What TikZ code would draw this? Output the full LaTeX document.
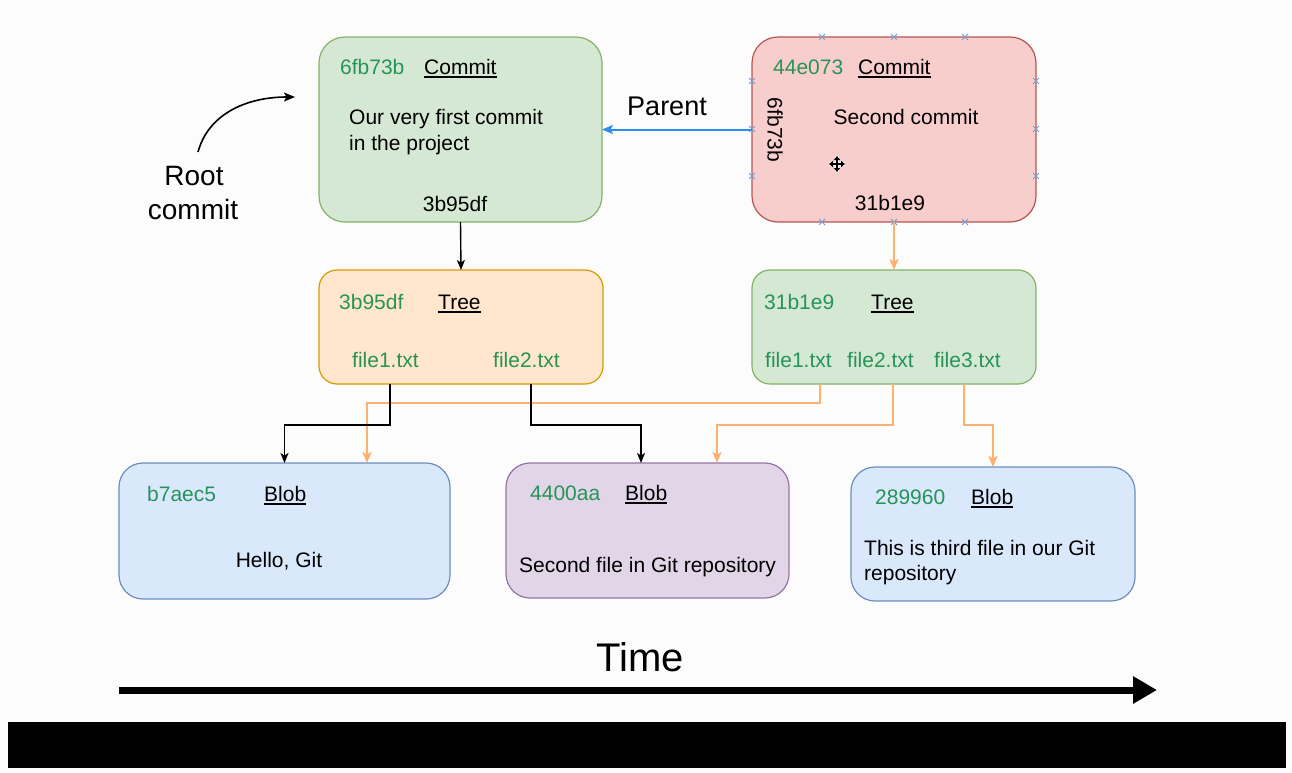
\documentclass[tikz,border=0pt]{standalone}
\usepackage{fontspec}
\setmainfont{Liberation Sans}
\usetikzlibrary{arrows.meta,calc}
\definecolor{bgc}{RGB}{253,252,253}
\definecolor{gfill}{HTML}{D5E8D4}\definecolor{gline}{HTML}{82B366}
\definecolor{rfill}{HTML}{F8CECC}\definecolor{rline}{HTML}{B85450}
\definecolor{ofill}{HTML}{FFE6CC}\definecolor{oline}{HTML}{D79B00}
\definecolor{bfill}{HTML}{DAE8FC}\definecolor{bline}{HTML}{6C8EBF}
\definecolor{pfill}{HTML}{E1D5E7}\definecolor{pline}{HTML}{9673A6}
\definecolor{hashg}{RGB}{38,148,86}
\definecolor{orc}{RGB}{255,176,110}
\definecolor{bluc}{RGB}{45,140,240}
\definecolor{hndl}{RGB}{110,160,210}
\newcommand{\ulx}[1]{\setbox0\hbox{#1}\rlap{\rule[-3.5pt]{\wd0}{1.4pt}}\box0}
\begin{document}
\begin{tikzpicture}[x=1pt,y=-1pt,
  box/.style={line width=1.2pt, inner sep=0pt, outer sep=0pt},
  txt/.style={inner sep=0pt, font=\fontsize{21}{25}\selectfont},
  hash/.style={txt, text=hashg},
  big/.style={inner sep=0pt, font=\fontsize{28}{32}\selectfont},
  blk/.style={draw=black, line width=1.4pt, -{Stealth[length=10pt,width=8pt,inset=2.5pt]}},
  org/.style={draw=orc, line width=2.4pt, -{Stealth[length=11pt,width=9pt,inset=2.5pt]}},
  blu/.style={draw=bluc, line width=2pt, -{Stealth[length=11pt,width=9pt,inset=2.5pt]}},
  hnd/.style={draw=hndl, line width=1pt}
]
\useasboundingbox (0,0) rectangle (1292,772);
\fill[bgc] (0,0) rectangle (1292,772);
\fill[black] (8,722) rectangle (1286,768);

% commits
\node[box, draw=gline, fill=gfill, rounded corners=26pt, minimum width=283pt, minimum height=185pt] (c1) at (460.5,129.5) {};
\node[hash, anchor=base west] (c1h) at (340,74) {6fb73b};
\node[txt, anchor=base west] (c1t) at (424,74) {\ulx{Commit}};
\node[txt, anchor=base west] (c1m1) at (349,124) {Our very first commit};
\node[txt, anchor=base west] (c1m2) at (349,150) {in the project};
\node[txt, anchor=base] (c1b) at (455,211) {3b95df};

\node[box, draw=rline, fill=rfill, rounded corners=26pt, minimum width=284pt, minimum height=185pt] (c2) at (894,129.5) {};
\node[hash, anchor=base west] (c2h) at (773,74) {44e073};
\node[txt, anchor=base west] (c2t) at (858,74) {\ulx{Commit}};
\node[txt, rotate=-90] (c2p) at (775,130) {6fb73b};
\node[txt, anchor=base] (c2m) at (906,124) {Second commit};
\node[txt, anchor=base] (c2b) at (890,210) {31b1e9};

% selection handles
\foreach \p in {(822,37),(894,37),(965,37),(822,222),(894,222),(965,222),(752,81),(752,129),(752,176),(1036,81),(1036,129),(1036,176)}
  \draw[hnd] \p +(-3,-3) -- +(3,3) \p +(-3,3) -- +(3,-3);

% move cursor
\begin{scope}[shift={(837,164)}]
  \draw[white, line width=4pt] (-8,0)--(8,0) (0,-8)--(0,8);
  \draw[line width=1.6pt, {Triangle[length=4pt,width=6pt]}-{Triangle[length=4pt,width=6pt]}] (-8,0)--(8,0);
  \draw[line width=1.6pt, {Triangle[length=4pt,width=6pt]}-{Triangle[length=4pt,width=6pt]}] (0,-8)--(0,8);
\end{scope}

% labels
\node[big, font=\fontsize{27}{30}\selectfont, anchor=base] (par) at (667,115) {Parent};
\node[big, anchor=base] (root1) at (194,185) {Root};
\node[big, anchor=base] (root2) at (193,219) {commit};
\coordinate (rs) at (198,152);
\coordinate (re) at (295,97);
\draw[draw=black, line width=1.6pt, -{Stealth[length=11pt,width=9pt,inset=2.5pt]}] (rs) .. controls (208,115) and (245,97) .. (re);

% trees
\node[box, draw=oline, fill=ofill, rounded corners=18pt, minimum width=284pt, minimum height=114pt] (t1) at (461,327) {};
\node[hash, anchor=base west] (t1h) at (339,309) {3b95df};
\node[txt, anchor=base west] (t1t) at (438,309) {\ulx{Tree}};
\node[hash, anchor=base west] (t1f1) at (352,367) {file1.txt};
\node[hash, anchor=base west] (t1f2) at (493,367) {file2.txt};

\node[box, draw=gline, fill=gfill, rounded corners=18pt, minimum width=284pt, minimum height=114pt] (t2) at (894,327) {};
\node[hash, anchor=base west] (t2h) at (764,309) {31b1e9};
\node[txt, anchor=base west] (t2t) at (871,309) {\ulx{Tree}};
\node[hash, anchor=base west] (t2f1) at (765,367) {file1.txt};
\node[hash, anchor=base west] (t2f2) at (847,367) {file2.txt};
\node[hash, anchor=base west] (t2f3) at (934,367) {file3.txt};

% blobs
\node[box, draw=bline, fill=bfill, rounded corners=24pt, minimum width=331pt, minimum height=136pt] (b1) at (284.5,531) {};
\node[hash, anchor=base west] (b1h) at (147,501) {b7aec5};
\node[txt, anchor=base west] (b1t) at (264,501) {\ulx{Blob}};
\node[txt, anchor=base] (b1m) at (279,567) {Hello, Git};

\node[box, draw=pline, fill=pfill, rounded corners=24pt, minimum width=283pt, minimum height=135pt] (b2) at (647.5,530.5) {};
\node[hash, anchor=base west] (b2h) at (530,500) {4400aa};
\node[txt, anchor=base west] (b2t) at (625,500) {\ulx{Blob}};
\node[txt, anchor=base west] (b2m) at (519,572) {Second file in Git repository};

\node[box, draw=bline, fill=bfill, rounded corners=24pt, minimum width=284pt, minimum height=134pt] (b3) at (993,534) {};
\node[hash, anchor=base west] (b3h) at (875,504) {289960};
\node[txt, anchor=base west] (b3t) at (971,504) {\ulx{Blob}};
\node[txt, anchor=base west] (b3m1) at (864,555) {This is third file in our Git};
\node[txt, anchor=base west] (b3m2) at (864,580) {repository};

% connectors
\draw[blu] (c2.west) -- (c1.east);
\draw[blk] (c1.south) -- (t1.north);
\draw[org] (c2.south) -- (t2.north);
\draw[org] ([xshift=-74pt]t2.south) -- ++(0,19) -| ([xshift=82.5pt]b1.north);
\draw[org] ([xshift=-1pt]t2.south) -- ++(0,41) -| ([xshift=69.5pt]b2.north);
\draw[org] ([xshift=70pt]t2.south) -- ++(0,41) -| (b3.north);
\draw[blk] ([xshift=-71pt]t1.south) -- ++(0,41) -| (b1.north);
\draw[blk] ([xshift=70pt]t1.south) -- ++(0,41) -| ([xshift=-6.5pt]b2.north);

% time
\node[inner sep=0pt, font=\fontsize{40}{44}\selectfont, anchor=base] (time) at (640,671) {Time};
\coordinate (ts) at (119,690);
\coordinate (te) at (1157,690);
\draw[line width=7pt, -{Triangle[length=24pt,width=26pt]}] (ts) -- (te);
\end{tikzpicture}
\end{document}
